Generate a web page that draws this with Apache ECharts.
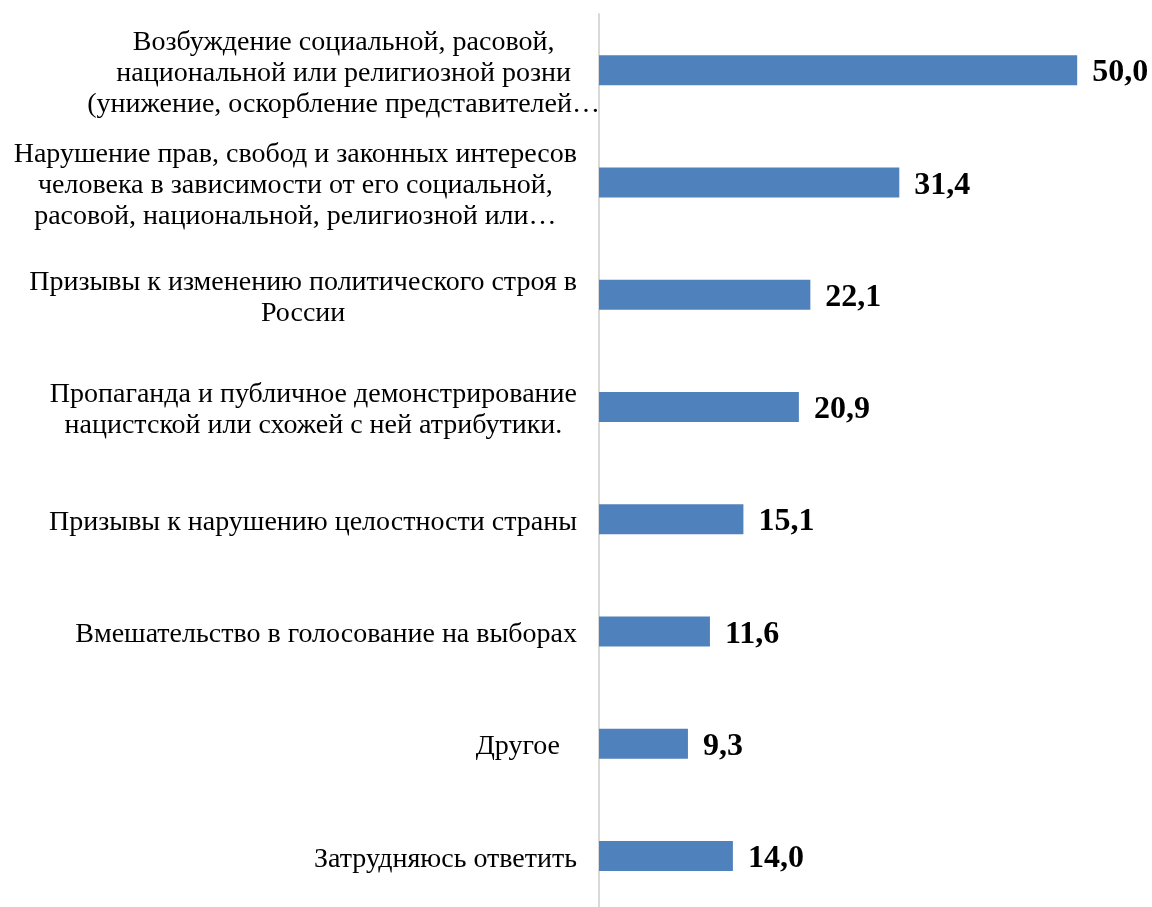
<!DOCTYPE html>
<html>
<head>
<meta charset="utf-8">
<script src="https://cdn.jsdelivr.net/npm/echarts@6/dist/echarts.min.js"></script>
<style>html,body{margin:0;padding:0;background:#fff;}#c{width:1152px;height:907px;}</style>
</head>
<body>
<div id="c"></div>
<script>
const categories = [
  "Возбуждение социальной, расовой,\nнациональной или религиозной розни\n(унижение, оскорбление представителей…",
  "Нарушение прав, свобод и законных интересов\nчеловека в зависимости от его социальной,\nрасовой, национальной, религиозной или…",
  "Призывы к изменению политического строя в\nРоссии",
  "Пропаганда и публичное демонстрирование\nнацистской или схожей с ней атрибутики.",
  "Призывы к нарушению целостности страны",
  "Вмешательство в голосование на выборах",
  "Другое",
  "Затрудняюсь ответить"
];
const values = [50.0, 31.4, 22.1, 20.9, 15.1, 11.6, 9.3, 14.0];

const FONT = '"Liberation Serif", "Times New Roman", serif';
const labelPadding = [[7,-23,0,0],[7,0,0,0],[7,0,0,0],[7,0,0,0],[7,0,0,0],[7,0,0,0],[7,17,0,0],[7,0,0,0]];

const chart = echarts.init(document.getElementById('c'), null, {renderer: 'canvas'});
chart.setOption({
  animation: false,
  backgroundColor: '#ffffff',
  grid: {left: 599, width: 526, top: 14, height: 898, containLabel: false, outerBoundsMode: 'none'},
  xAxis: {
    type: 'value', min: 0, max: 55, show: false,
    splitLine: {show: false}
  },
  yAxis: {
    type: 'category',
    inverse: true,
    data: categories.map((c, i) => ({value: c, textStyle: {padding: labelPadding[i]}})),
    axisLine: {show: true, lineStyle: {color: '#d9d9d9', width: 2}},
    axisTick: {show: false},
    splitLine: {show: false},
    axisLabel: {
      margin: 22,
      align: 'right',
      color: '#000',
      fontFamily: FONT,
      fontSize: 28,
      lineHeight: 31,
      formatter: v => v.split('\n').map(l => '{c|' + l + '}').join('\n'),
      rich: {c: {align: 'center', fontFamily: FONT, fontSize: 28, lineHeight: 31, color: '#000'}}
    }
  },
  series: [{
    type: 'bar',
    data: values,
    barWidth: 30,
    itemStyle: {color: '#4f81bd'},
    label: {
      show: true,
      position: 'right',
      distance: 15,
      offset: [0, 3],
      color: '#000',
      fontFamily: FONT,
      fontWeight: 'bold',
      fontSize: 32,
      formatter: p => p.value.toFixed(1).replace('.', ',')
    }
  }]
});
</script>
</body>
</html>
